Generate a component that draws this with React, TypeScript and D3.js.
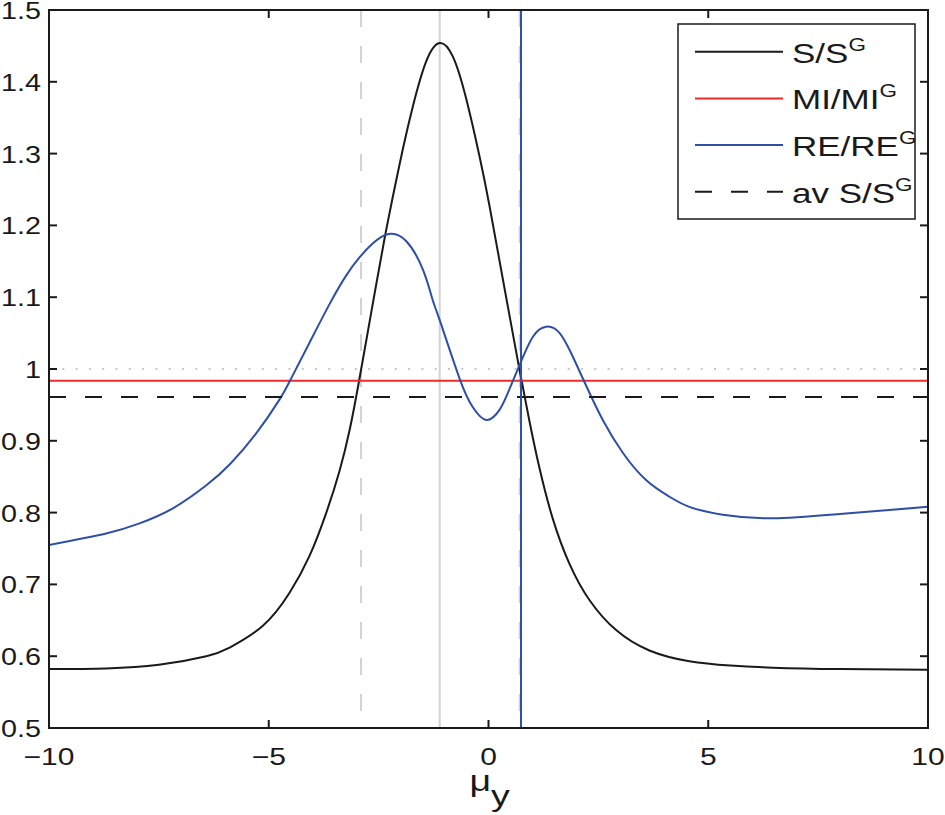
import React from 'react';
import * as d3 from 'd3';

// S/S^G 曲线（黑色）
const sX = [-10, -8.7, -7.5, -6.42, -5.89, -5.14, -4.53, -4.07, -3.69, -3.39, -3.16, -2.97, -2.78, -2.56, -2.37, -2.19, -1.95, -1.72, -1.42, -1.11, -0.81, -0.51, -0.2, 0.02, 0.33, 0.59, 0.74, 0.93, 1.16, 1.46, 1.84, 2.3, 2.91, 3.66, 4.57, 5.5, 6.47, 8.0, 10];
const sY = [0.582, 0.583, 0.588, 0.6, 0.612, 0.642, 0.688, 0.74, 0.8, 0.858, 0.915, 0.975, 1.04, 1.116, 1.18, 1.236, 1.306, 1.366, 1.428, 1.454, 1.435, 1.377, 1.295, 1.228, 1.124, 1.037, 0.988, 0.928, 0.862, 0.792, 0.729, 0.678, 0.636, 0.608, 0.593, 0.587, 0.584, 0.582, 0.581];

// RE/RE^G 曲线（蓝色）
const reX = [-10, -8.7, -7.94, -7.18, -6.42, -5.89, -5.29, -4.76, -4.49, -4.07, -3.62, -3.24, -2.94, -2.63, -2.27, -1.87, -1.49, -1.27, -1.11, -0.66, -0.36, -0.05, 0.25, 0.45, 0.71, 1.01, 1.31, 1.62, 1.92, 2.22, 2.6, 3.06, 3.59, 4.12, 4.57, 5.33, 6.47, 7.99, 10];
const reY = [0.755, 0.771, 0.785, 0.806, 0.838, 0.867, 0.91, 0.957, 0.987, 1.037, 1.09, 1.13, 1.155, 1.175, 1.188, 1.178, 1.138, 1.096, 1.068, 0.987, 0.947, 0.929, 0.943, 0.968, 1.006, 1.045, 1.059, 1.05, 1.017, 0.977, 0.929, 0.883, 0.845, 0.822, 0.808, 0.797, 0.792, 0.798, 0.808];

// 水平参考线
const miLevel = 0.9835;
const avSLevel = 0.961;
const unityLevel = 1.0;

// 竖直参考线
const grayDashedX = [-2.9, 0.71];
const graySolidX = [-1.11];
const blueVerticalX = [0.74];

// 刻度
const xTicks = [-10, -5, 0, 5, 10];
const yTicks = [0.5, 0.6, 0.7, 0.8, 0.9, 1.0, 1.1, 1.2, 1.3, 1.4, 1.5];

const legendItems = [
  { main: 'S/S', sup: 'G', color: '#1a1a1a', dash: '' },
  { main: 'MI/MI', sup: 'G', color: '#ee2a2a', dash: '' },
  { main: 'RE/RE', sup: 'G', color: '#2f4fa6', dash: '' },
  { main: 'av S/S', sup: 'G', color: '#1a1a1a', dash: '17 19' },
];

const W = 945;
const H = 815;
const plot = { left: 49, right: 928, top: 10, bottom: 728 };
const STRETCH = 1.25; // 原图横向拉伸
const FONT = '"Liberation Sans", Arial, sans-serif';

const fmtX = (v: number) => String(v).replace('-', '\u2212');

const App: React.FC = () => {
  const x = d3.scaleLinear().domain([-10, 10]).range([plot.left, plot.right]);
  const y = d3.scaleLinear().domain([0.5, 1.5]).range([plot.bottom, plot.top]);

  const line = d3
    .line<[number, number]>()
    .x(d => x(d[0]))
    .y(d => y(d[1]))
    .curve(d3.curveNatural);

  const sPath = line(sX.map((v, i) => [v, sY[i]] as [number, number])) || '';
  const rePath = line(reX.map((v, i) => [v, reY[i]] as [number, number])) || '';

  const tickLen = 8;
  const lg = { x: 678, y: 24, w: 237, h: 195 };

  return (
    <svg
      width={W}
      height={H}
      style={{ position: 'absolute', left: 0, top: 0, background: '#fff', fontFamily: FONT }}
    >
      <defs>
        <clipPath id="plotClip">
          <rect x={plot.left} y={plot.top} width={plot.right - plot.left} height={plot.bottom - plot.top} />
        </clipPath>
      </defs>

      <g clipPath="url(#plotClip)">
        {/* 灰色竖线 */}
        {grayDashedX.map((v, i) => (
          <line key={`gd${i}`} x1={x(v)} x2={x(v)} y1={plot.top} y2={plot.bottom} stroke="#d2d2d2" strokeWidth={2} strokeDasharray="17 19" />
        ))}
        {graySolidX.map((v, i) => (
          <line key={`gs${i}`} x1={x(v)} x2={x(v)} y1={plot.top} y2={plot.bottom} stroke="#d2d2d2" strokeWidth={2} />
        ))}
        {/* y=1 点线 */}
        <line x1={plot.left} x2={plot.right} y1={y(unityLevel)} y2={y(unityLevel)} stroke="#c8c8c8" strokeWidth={2} strokeDasharray="2 11.3" />

        <path d={sPath} fill="none" stroke="#1a1a1a" strokeWidth={2} />
        <line x1={plot.left} x2={plot.right} y1={y(miLevel)} y2={y(miLevel)} stroke="#ee2a2a" strokeWidth={2} />
        <path d={rePath} fill="none" stroke="#2f4fa6" strokeWidth={2} />
        <line x1={plot.left} x2={plot.right} y1={y(avSLevel)} y2={y(avSLevel)} stroke="#1a1a1a" strokeWidth={2} strokeDasharray="17 19" />
        {blueVerticalX.map((v, i) => (
          <line key={`bv${i}`} x1={x(v)} x2={x(v)} y1={plot.top} y2={plot.bottom} stroke="#2f4fa6" strokeWidth={2} />
        ))}
      </g>

      {/* 坐标框 */}
      <rect x={plot.left} y={plot.top} width={plot.right - plot.left} height={plot.bottom - plot.top} fill="none" stroke="#1a1a1a" strokeWidth={2} />

      {/* x 刻度 */}
      {xTicks.map(t => (
        <g key={`xt${t}`}>
          <line x1={x(t)} x2={x(t)} y1={plot.bottom} y2={plot.bottom - tickLen} stroke="#1a1a1a" strokeWidth={2} />
          <line x1={x(t)} x2={x(t)} y1={plot.top} y2={plot.top + tickLen} stroke="#1a1a1a" strokeWidth={2} />
          <g transform={`translate(${x(t)},${plot.bottom + 37}) scale(${STRETCH},1)`}>
            <text textAnchor="middle" fontSize={24} fill="#1a1a1a">{fmtX(t)}</text>
          </g>
        </g>
      ))}

      {/* y 刻度 */}
      {yTicks.map(t => (
        <g key={`yt${t}`}>
          <line x1={plot.left} x2={plot.left + tickLen} y1={y(t)} y2={y(t)} stroke="#1a1a1a" strokeWidth={2} />
          <line x1={plot.right} x2={plot.right - tickLen} y1={y(t)} y2={y(t)} stroke="#1a1a1a" strokeWidth={2} />
          <g transform={`translate(${plot.left - 8},${y(t) + 9}) scale(${STRETCH},1)`}>
            <text textAnchor="end" fontSize={23} fill="#1a1a1a">{d3.format('.1~f')(t)}</text>
          </g>
        </g>
      ))}

      {/* x 轴标题 μ_y */}
      <g transform={`translate(${x(0) - 19},791) scale(${STRETCH},1)`}>
        <text fontSize={30} fill="#1a1a1a">
          μ<tspan dy={15}>y</tspan>
        </text>
      </g>

      {/* 图例 */}
      <rect x={lg.x} y={lg.y} width={lg.w} height={lg.h} fill="#fff" stroke="#1a1a1a" strokeWidth={1.5} />
      {legendItems.map((it, i) => {
        const cy = 51.7 + i * 46.7;
        return (
          <g key={it.main}>
            <line x1={695} x2={783} y1={cy} y2={cy} stroke={it.color} strokeWidth={2} strokeDasharray={it.dash || undefined} />
            <g transform={`translate(792,${cy + 11}) scale(${STRETCH},1)`}>
              <text fontSize={28} fill="#1a1a1a">
                {it.main}
                <tspan fontSize={18} dy={-12}>{it.sup}</tspan>
              </text>
            </g>
          </g>
        );
      })}
    </svg>
  );
};

export default App;
